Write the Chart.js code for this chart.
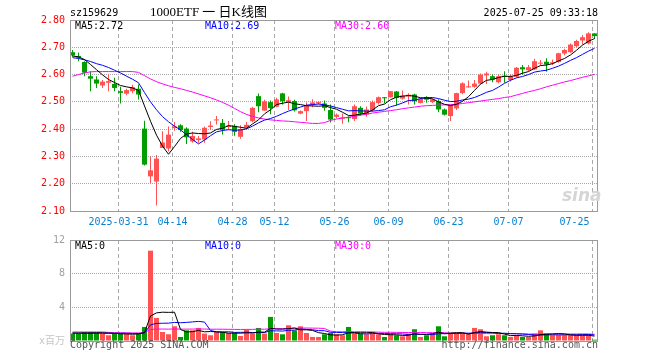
<!DOCTYPE html>
<html>
<head>
<meta charset="utf-8">
<script src="https://cdn.jsdelivr.net/npm/chart.js@4.4.1/dist/chart.umd.min.js"></script>
<style>
  body { margin: 0; background: #fff; }
  #wrap { position: relative; width: 660px; height: 360px; overflow: hidden;
          font-family: 'DejaVu Sans Mono', 'Noto Sans CJK SC', monospace; font-size: 10px; line-height: 10px; }
  canvas { position: absolute; left: 0; top: 0; }
  .t { position: absolute; white-space: pre; }
</style>
</head>
<body>
<div id="wrap">
  <canvas id="kline" width="660" height="360"></canvas>
  <canvas id="vol" width="660" height="360"></canvas>

  <div class="t" style="left:70px;top:8px;color:#000">sz159629</div>
  <div class="t" style="left:150px;top:5px;font:13px/13px 'Liberation Serif','Noto Sans CJK SC',serif;color:#000">1000ETF 一 日K线图</div>
  <div class="t" style="right:62px;top:8px;color:#000">2025-07-25 09:33:18</div>

  <div class="t" style="left:75px;top:21px;color:#000">MA5:2.72</div>
  <div class="t" style="left:205px;top:21px;color:#0000ff">MA10:2.69</div>
  <div class="t" style="left:335px;top:21px;color:#ff00ff">MA30:2.60</div>

  <div class="t" style="left:562px;top:187px;font:italic bold 17px/17px 'DejaVu Sans',sans-serif;color:#d6d6d6">sina</div>

  <div class="t" style="left:75px;top:241px;color:#000">MA5:0</div>
  <div class="t" style="left:205px;top:241px;color:#0000ff">MA10:0</div>
  <div class="t" style="left:335px;top:241px;color:#ff00ff">MA30:0</div>

  <div class="t" style="left:70px;top:340px;color:#555">Copyright 2025 SINA.COM</div>
  <div class="t" style="right:62px;top:340px;color:#555">http://finance.sina.com.cn</div>
</div>
<script>
// trading days shown (2025-03-19 .. 2025-07-25)
const dates = [
  '2025-03-19','2025-03-20','2025-03-21','2025-03-24','2025-03-25','2025-03-26','2025-03-27','2025-03-28','2025-03-31',
  '2025-04-01','2025-04-02','2025-04-03','2025-04-07','2025-04-08','2025-04-09','2025-04-10','2025-04-11','2025-04-14',
  '2025-04-15','2025-04-16','2025-04-17','2025-04-18','2025-04-21','2025-04-22','2025-04-23','2025-04-24','2025-04-25',
  '2025-04-28','2025-04-29','2025-04-30','2025-05-06','2025-05-07','2025-05-08','2025-05-09','2025-05-12','2025-05-13',
  '2025-05-14','2025-05-15','2025-05-16','2025-05-19','2025-05-20','2025-05-21','2025-05-22','2025-05-23','2025-05-26',
  '2025-05-27','2025-05-28','2025-05-29','2025-05-30','2025-06-03','2025-06-04','2025-06-05','2025-06-06','2025-06-09',
  '2025-06-10','2025-06-11','2025-06-12','2025-06-13','2025-06-16','2025-06-17','2025-06-18','2025-06-19','2025-06-20',
  '2025-06-23','2025-06-24','2025-06-25','2025-06-26','2025-06-27','2025-06-30','2025-07-01','2025-07-02','2025-07-03',
  '2025-07-04','2025-07-07','2025-07-08','2025-07-09','2025-07-10','2025-07-11','2025-07-14','2025-07-15','2025-07-16',
  '2025-07-17','2025-07-18','2025-07-21','2025-07-22','2025-07-23','2025-07-24','2025-07-25'
];

const openP = [
  2.682,2.668,2.646,2.594,2.582,2.560,2.570,2.566,2.539,2.530,
  2.539,2.548,2.402,2.227,2.208,2.331,2.329,2.404,2.414,2.402,
  2.355,2.360,2.362,2.408,2.432,2.423,2.408,2.412,2.372,2.406,
  2.429,2.521,2.468,2.499,2.482,2.531,2.499,2.503,2.457,2.466,
  2.490,2.494,2.494,2.470,2.445,2.438,2.444,2.437,2.478,2.453,
  2.469,2.496,2.517,2.517,2.538,2.512,2.520,2.527,2.496,2.518,
  2.499,2.503,2.472,2.448,2.476,2.532,2.553,2.555,2.567,2.597,
  2.594,2.572,2.594,2.580,2.592,2.627,2.616,2.619,2.640,2.647,
  2.641,2.646,2.677,2.682,2.704,2.725,2.714,2.751
];
const highP = [
  2.690,2.681,2.649,2.612,2.594,2.580,2.600,2.588,2.555,2.548,
  2.563,2.564,2.431,2.300,2.305,2.392,2.410,2.426,2.418,2.407,
  2.390,2.375,2.410,2.429,2.448,2.437,2.430,2.418,2.414,2.426,
  2.482,2.531,2.508,2.505,2.515,2.533,2.520,2.508,2.468,2.498,
  2.510,2.502,2.505,2.490,2.457,2.457,2.447,2.490,2.484,2.483,
  2.505,2.520,2.518,2.540,2.540,2.542,2.532,2.530,2.515,2.521,
  2.512,2.510,2.476,2.490,2.533,2.572,2.578,2.580,2.604,2.610,
  2.600,2.600,2.612,2.600,2.628,2.635,2.635,2.658,2.653,2.660,
  2.655,2.680,2.695,2.714,2.728,2.745,2.755,2.751
];
const lowP = [
  2.665,2.649,2.594,2.539,2.551,2.551,2.539,2.539,2.494,2.524,
  2.532,2.509,2.267,2.202,2.120,2.331,2.318,2.394,2.390,2.346,
  2.350,2.350,2.350,2.398,2.417,2.380,2.400,2.376,2.365,2.399,
  2.425,2.462,2.467,2.455,2.480,2.490,2.470,2.465,2.455,2.430,
  2.480,2.490,2.467,2.424,2.440,2.420,2.425,2.430,2.450,2.445,
  2.465,2.490,2.495,2.515,2.487,2.509,2.490,2.490,2.494,2.497,
  2.496,2.462,2.450,2.430,2.470,2.528,2.552,2.552,2.565,2.565,
  2.572,2.568,2.570,2.575,2.588,2.600,2.612,2.617,2.632,2.610,
  2.635,2.643,2.671,2.680,2.700,2.710,2.710,2.730
];
const closeP = [
  2.670,2.662,2.607,2.585,2.567,2.574,2.576,2.551,2.533,2.543,
  2.554,2.527,2.270,2.249,2.292,2.351,2.380,2.410,2.397,2.370,
  2.375,2.366,2.405,2.413,2.435,2.398,2.413,2.390,2.400,2.416,
  2.478,2.484,2.502,2.477,2.509,2.502,2.506,2.469,2.466,2.487,
  2.498,2.499,2.478,2.435,2.453,2.443,2.440,2.484,2.457,2.472,
  2.499,2.517,2.513,2.539,2.515,2.523,2.526,2.502,2.511,2.508,
  2.509,2.472,2.453,2.487,2.532,2.568,2.557,2.567,2.600,2.604,
  2.582,2.594,2.592,2.594,2.625,2.619,2.627,2.649,2.643,2.637,
  2.645,2.678,2.690,2.710,2.723,2.737,2.751,2.741
];

// price moving averages as drawn
const ma5 = [
  2.668,2.665,2.655,2.637,2.618,2.599,2.582,2.571,2.560,2.555,
  2.551,2.542,2.485,2.429,2.378,2.338,2.308,2.336,2.366,2.382,
  2.386,2.384,2.383,2.386,2.399,2.403,2.413,2.410,2.407,2.403,
  2.419,2.434,2.456,2.471,2.490,2.495,2.499,2.493,2.490,2.486,
  2.485,2.484,2.486,2.479,2.473,2.462,2.450,2.451,2.455,2.459,
  2.470,2.486,2.492,2.508,2.517,2.521,2.523,2.521,2.515,2.514,
  2.511,2.500,2.491,2.486,2.491,2.502,2.519,2.542,2.565,2.579,
  2.582,2.589,2.594,2.593,2.597,2.605,2.611,2.623,2.633,2.635,
  2.640,2.650,2.659,2.672,2.689,2.708,2.722,2.732
];
const ma10 = [
  2.662,2.659,2.654,2.648,2.640,2.634,2.626,2.616,2.606,2.594,
  2.583,2.570,2.534,2.500,2.471,2.446,2.427,2.411,2.397,2.380,
  2.362,2.346,2.360,2.376,2.390,2.395,2.398,2.396,2.397,2.401,
  2.411,2.423,2.433,2.439,2.447,2.457,2.466,2.474,2.481,2.488,
  2.490,2.492,2.489,2.485,2.479,2.473,2.467,2.468,2.467,2.466,
  2.466,2.468,2.471,2.482,2.488,2.496,2.505,2.506,2.512,2.515,
  2.516,2.512,2.506,2.501,2.502,2.507,2.510,2.516,2.525,2.535,
  2.542,2.554,2.568,2.579,2.588,2.593,2.600,2.609,2.613,2.616,
  2.623,2.631,2.641,2.652,2.662,2.674,2.686,2.696
];
const ma30 = [
  2.594,2.600,2.606,2.610,2.611,2.611,2.611,2.611,2.611,2.611,
  2.611,2.608,2.596,2.584,2.574,2.566,2.559,2.553,2.548,2.542,
  2.536,2.529,2.522,2.515,2.507,2.498,2.488,2.476,2.464,2.454,
  2.447,2.441,2.437,2.434,2.432,2.430,2.429,2.427,2.425,2.423,
  2.421,2.421,2.424,2.432,2.437,2.441,2.444,2.447,2.451,2.455,
  2.459,2.462,2.465,2.468,2.471,2.475,2.478,2.481,2.484,2.486,
  2.487,2.488,2.489,2.490,2.491,2.494,2.497,2.500,2.503,2.506,
  2.509,2.512,2.516,2.519,2.525,2.531,2.537,2.542,2.548,2.555,
  2.561,2.567,2.573,2.578,2.584,2.590,2.595,2.601
];

// volume, millions
const volume = [
  0.88,0.88,1.07,1.07,1.00,0.88,0.68,0.88,0.88,0.88,
  0.68,0.88,1.67,10.73,2.74,1.07,0.80,1.75,0.48,1.27,
  1.27,1.55,0.88,0.68,1.07,1.07,0.95,0.95,0.60,1.35,
  0.88,1.55,0.88,2.86,0.95,0.80,1.87,1.27,1.75,0.95,
  0.48,0.48,0.80,0.95,0.80,0.68,1.67,0.88,0.88,0.80,
  0.88,0.80,0.48,0.80,0.68,0.56,0.88,1.40,0.48,0.68,
  0.88,1.75,0.56,0.88,0.88,0.88,0.88,1.55,1.40,0.56,
  0.68,0.80,0.68,0.48,0.68,0.48,0.48,0.88,1.27,0.88,
  0.68,0.68,0.68,0.68,0.68,0.68,0.68,0.16
];
const volMa5 = [
  0.95,0.95,0.95,0.95,0.98,0.98,0.94,0.90,0.86,0.84,
  0.80,0.84,1.00,2.97,3.34,3.42,3.40,3.42,1.37,1.07,
  1.11,1.26,1.09,1.13,1.09,1.05,0.93,0.94,0.93,0.98,
  0.95,1.07,1.05,1.50,1.42,1.41,1.47,1.55,1.33,1.33,
  1.26,0.99,0.89,0.73,0.70,0.74,0.98,1.00,0.98,0.98,
  1.02,0.85,0.77,0.75,0.73,0.66,0.68,0.86,0.80,0.80,
  0.86,1.04,0.87,0.95,0.99,0.99,0.82,1.01,1.12,1.05,
  1.01,1.00,0.82,0.64,0.66,0.62,0.56,0.60,0.76,0.80,
  0.84,0.88,0.84,0.72,0.68,0.68,0.68,0.58
];
const volMa10 = [
  0.92,0.92,0.92,0.92,0.92,0.92,0.92,0.92,0.92,0.91,
  0.89,0.89,0.95,1.92,2.09,2.11,2.12,2.21,2.17,2.21,
  2.27,2.33,2.25,1.25,1.08,1.08,1.10,1.02,1.03,1.04,
  1.00,1.00,1.00,1.22,1.20,1.18,1.27,1.30,1.42,1.38,
  1.34,1.23,1.22,1.03,1.02,1.00,0.98,0.94,0.86,0.84,
  0.88,0.91,0.88,0.87,0.86,0.84,0.76,0.82,0.78,0.76,
  0.76,0.86,0.87,0.88,0.90,0.93,0.93,0.94,1.03,1.02,
  1.00,0.91,0.92,0.88,0.86,0.82,0.78,0.71,0.70,0.73,
  0.73,0.72,0.72,0.74,0.74,0.76,0.78,0.71
];
const volMa30 = [
  1.07,1.07,1.07,1.07,1.07,1.07,1.02,1.00,0.98,0.98,
  0.96,0.96,0.98,1.37,1.42,1.42,1.41,1.43,1.41,1.41,
  1.42,1.43,1.42,1.40,1.40,1.40,1.39,1.38,1.37,1.38,
  1.38,1.41,1.40,1.46,1.46,1.46,1.50,1.51,1.54,1.54,
  1.53,1.52,1.49,1.17,1.10,1.09,1.12,1.09,1.10,1.09,
  1.07,1.05,1.03,1.04,1.02,1.01,1.01,1.02,1.02,0.99,
  0.99,1.00,0.99,0.92,0.92,0.92,0.89,0.90,0.89,0.88,
  0.88,0.89,0.89,0.87,0.87,0.86,0.82,0.82,0.84,0.84,
  0.83,0.83,0.84,0.83,0.83,0.84,0.83,0.79
];

const tickDates = ['2025-03-31','2025-04-14','2025-04-28','2025-05-12','2025-05-26','2025-06-09','2025-06-23','2025-07-07','2025-07-25'];
const tickLabels = ['2025-03-31','04-14','04-28','05-12','05-26','06-09','06-23','07-07','07-25'];
const priceTicks = [2.1, 2.2, 2.3, 2.4, 2.5, 2.6, 2.7, 2.8];
const volTicks = [0, 4, 8, 12];

const UP = '#ff5353';
const DOWN = '#009c00';
const GRID = '#a8a8a8';

Chart.defaults.font.family = "'DejaVu Sans Mono', 'Noto Sans CJK SC', monospace";
Chart.defaults.font.size = 10;
Chart.defaults.animation = false;
Chart.defaults.plugins.legend.display = false;
Chart.defaults.plugins.tooltip.enabled = false;

const candleColor = closeP.map((c, i) => (c >= openP[i] ? UP : DOWN));
const tickIdx = tickDates.map(d => dates.indexOf(d));
const pts = arr => arr.map((v, i) => ({ x: i, y: v }));

// gray frame round the plot area
const framePlugin = {
  id: 'frame',
  afterDraw(chart) {
    const { ctx, chartArea: a } = chart;
    ctx.save();
    ctx.strokeStyle = '#9a9a9a';
    ctx.lineWidth = 1;
    ctx.strokeRect(a.left + 0.5, a.top + 0.5, a.right - a.left, a.bottom - a.top);
    ctx.restore();
  }
};

// shared date axis: 6px per trading day, grid line at the left of each candle
const xAxis = (showLabels) => ({
  type: 'linear',
  bounds: 'data',
  min: -2.5 / 6,
  max: -2.5 / 6 + 527 / 6,
  offset: false,
  grid: { color: GRID, drawTicks: false, offset: false },
  border: { display: false, dash: [4, 3] },
  afterBuildTicks: s => { s.ticks = tickIdx.map(i => ({ value: i - 1 / 3 })); },
  afterFit: s => { s.height = showLabels ? 24 : 0; s.paddingLeft = 0; s.paddingRight = 0; },
  ticks: {
    display: showLabels,
    autoSkip: false,
    maxRotation: 0,
    color: '#0a7fcf',
    padding: 5,
    callback: (v, k) => (k === tickLabels.length - 1 ? tickLabels[k] + '      ' : tickLabels[k])
  }
});

const maLine = (data, color) => ({
  type: 'line',
  data: pts(data),
  borderColor: color,
  borderWidth: 1,
  pointRadius: 0,
  tension: 0,
  order: 0
});

new Chart(document.getElementById('kline'), {
  type: 'bar',
  data: {
    datasets: [
      maLine(ma5, '#000000'),
      maLine(ma10, '#0000ff'),
      maLine(ma30, '#ff00ff'),
      {
        type: 'bar',
        data: dates.map((d, i) => ({ x: i, y: [openP[i], closeP[i]] })),
        backgroundColor: candleColor,
        barThickness: 5,
        minBarLength: 1,
        grouped: false,
        inflateAmount: 0,
        borderWidth: 0,
        order: 1
      },
      {
        type: 'bar',
        data: dates.map((d, i) => ({ x: i, y: [lowP[i], highP[i]] })),
        backgroundColor: candleColor,
        barThickness: 1,
        grouped: false,
        inflateAmount: 0,
        borderWidth: 0,
        order: 2
      }
    ]
  },
  options: {
    responsive: false,
    devicePixelRatio: 1,
    layout: { padding: { left: 0, right: 63, top: 20, bottom: 125 } },
    scales: {
      x: xAxis(true),
      y: {
        type: 'linear',
        min: 2.1,
        max: 2.8,
        afterBuildTicks: s => { s.ticks = priceTicks.map(v => ({ value: v })); },
        afterFit: s => { s.width = 70; },
        grid: { color: GRID, drawTicks: false },
        border: { display: false, dash: [1, 1] },
        ticks: { color: '#ff0000', padding: 5, callback: v => v.toFixed(2) }
      }
    }
  },
  plugins: [framePlugin]
});

new Chart(document.getElementById('vol'), {
  type: 'bar',
  data: {
    datasets: [
      maLine(volMa5, '#000000'),
      maLine(volMa10, '#0000ff'),
      maLine(volMa30, '#ff00ff'),
      {
        type: 'bar',
        data: pts(volume),
        backgroundColor: candleColor,
        barThickness: 5,
        grouped: false,
        inflateAmount: 0,
        borderWidth: 0,
        order: 1
      }
    ]
  },
  options: {
    responsive: false,
    devicePixelRatio: 1,
    layout: { padding: { left: 0, right: 63, top: 240, bottom: 19 } },
    scales: {
      x: xAxis(false),
      y: {
        type: 'linear',
        min: 0,
        max: 12,
        afterBuildTicks: s => { s.ticks = volTicks.map(v => ({ value: v })); },
        afterFit: s => { s.width = 70; },
        grid: { color: GRID, drawTicks: false },
        border: { display: false, dash: [1, 1] },
        ticks: {
          padding: 5,
          color: c => (c.tick && c.tick.value === 0 ? '#c4c4c4' : '#a0a0a0'),
          callback: v => (v === 0 ? 'x百万' : String(v))
        }
      }
    }
  },
  plugins: [framePlugin]
});
</script>
</body>
</html>
